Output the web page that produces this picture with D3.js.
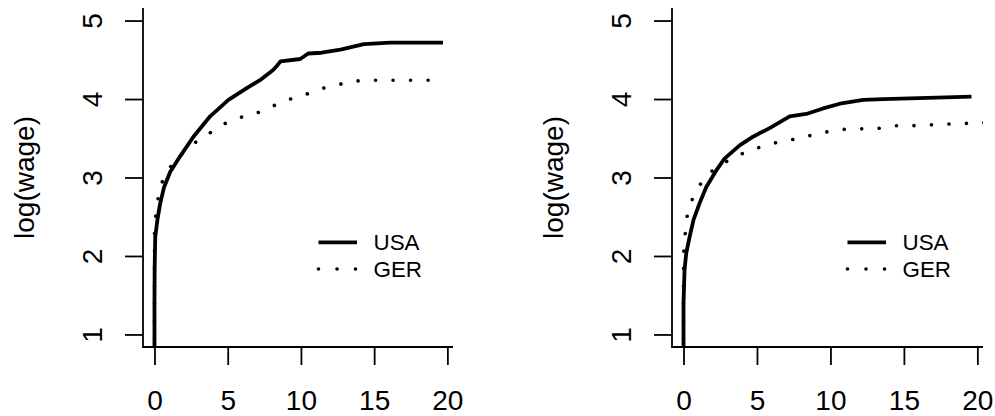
<!DOCTYPE html>
<html>
<head>
<meta charset="utf-8">
<script src="https://cdn.jsdelivr.net/npm/d3@7"></script>
<style>
  html, body { margin: 0; padding: 0; background: #fff; }
  svg { display: block; }
  text { font-family: "Liberation Sans", Arial, Helvetica, sans-serif; fill: #000; }
</style>
</head>
<body>
<svg id="chart" width="995" height="416"></svg>
<script>
// ---------- data ----------
const xTicks = [0, 5, 10, 15, 20];
const yTicks = [1, 2, 3, 4, 5];
const yLabel = "log(wage)";
const seriesNames = ["USA", "GER"];

const usaLeft = [[0.0,0.3],[0.0,1.4],[0.01,1.82],[0.05,2.24],[0.2,2.46],[0.39,2.67],[0.66,2.88],[1.07,3.07],
  [1.75,3.27],[2.66,3.52],[3.8,3.78],[5.05,3.99],[6.3,4.14],[7.2,4.24],[8.1,4.37],[8.35,4.42],[8.6,4.48],
  [9.95,4.51],[10.5,4.58],[11.4,4.59],[12.7,4.63],[14.3,4.70],[16.1,4.72],[19.7,4.72]];
const gerLeft = [[0,0.5],[0,1.86],[0,2.08],[0.0,2.32],[0.1,2.54],[0.27,2.76],[0.57,2.97],[1.14,3.15],
  [1.9,3.31],[2.73,3.44],[3.64,3.55],[4.6,3.67],[5.73,3.76],[6.87,3.81],[7.96,3.90],[9.1,3.99],[10.2,4.05],
  [11.34,4.13],[12.48,4.18],[13.68,4.23],[14.93,4.24],[19.3,4.24]];
const usaRight = [[0,0.3],[0,1.4],[0.07,1.82],[0.18,2.03],[0.41,2.24],[0.68,2.46],[1.09,2.67],[1.55,2.88],
  [2.23,3.09],[2.79,3.24],[3.82,3.41],[4.73,3.52],[5.86,3.63],[7.23,3.78],[8.36,3.81],[9.5,3.88],
  [10.64,3.94],[12.23,3.99],[13.6,4.0],[19.6,4.03]];
const gerRight = [[0,0.5],[0,1.84],[0.02,2.06],[0.12,2.29],[0.25,2.51],[0.57,2.71],[1.09,2.90],[1.77,3.06],
  [2.7,3.18],[3.68,3.28],[4.77,3.36],[5.93,3.43],[7.09,3.47],[8.3,3.52],[9.43,3.57],[10.6,3.61],
  [11.86,3.62],[13.06,3.62],[14.3,3.66],[15.5,3.66],[16.7,3.67],[17.95,3.68],[20.6,3.70]];

// ---------- layout ----------
const svg = d3.select("#chart");
const panels = [
  { left: 143, right: 453, usa: usaLeft, ger: gerLeft },
  { left: 672, right: 983, usa: usaRight, ger: gerRight }
];
const plotTop = 8, plotBottom = 347;
const xDomain = [-0.784, 20.384];
const yDomain = [0.84, 5.16];

panels.forEach((p, i) => {
  const x = d3.scaleLinear().domain(xDomain).range([p.left, p.right]);
  const y = d3.scaleLinear().domain(yDomain).range([plotBottom, plotTop]);
  const g = svg.append("g");

  const clipId = "clip" + i;
  svg.append("clipPath").attr("id", clipId)
    .append("rect").attr("x", p.left).attr("y", plotTop)
    .attr("width", p.right - p.left).attr("height", plotBottom - plotTop);

  const line = d3.line().x(d => x(d[0])).y(d => y(d[1])).curve(d3.curveLinear);

  // GER dotted
  g.append("path").datum(p.ger)
    .attr("clip-path", `url(#${clipId})`)
    .attr("d", line)
    .attr("fill", "none").attr("stroke", "#000")
    .attr("stroke-width", 3.6)
    .attr("stroke-linecap", "round")
    .attr("stroke-dasharray", "0.01,17.5");

  // USA solid
  g.append("path").datum(p.usa)
    .attr("clip-path", `url(#${clipId})`)
    .attr("d", line)
    .attr("fill", "none").attr("stroke", "#000")
    .attr("stroke-width", 3.8)
    .attr("stroke-linejoin", "round");

  // L box
  g.append("path")
    .attr("d", `M${p.left},${plotTop}V${plotBottom}H${p.right}`)
    .attr("fill", "none").attr("stroke", "#000").attr("stroke-width", 1.8);

  // y axis
  const ya = g.append("g").attr("transform", `translate(${p.left},0)`)
    .call(d3.axisLeft(y).tickValues(yTicks).tickSize(18).tickSizeOuter(0).tickFormat(d3.format("d")));
  ya.select(".domain").remove();
  ya.selectAll(".tick line").attr("stroke", "#000").attr("stroke-width", 1.8);
  ya.selectAll(".tick text")
    .attr("x", null).attr("dy", null)
    .attr("transform", "translate(-41,0) rotate(-90)")
    .attr("text-anchor", "middle")
    .attr("font-size", 28)
    .attr("font-family", null);

  // x axis
  const xa = g.append("g").attr("transform", `translate(0,${plotBottom})`)
    .call(d3.axisBottom(x).tickValues(xTicks).tickSize(18).tickSizeOuter(0).tickFormat(d3.format("d")));
  xa.select(".domain").remove();
  xa.selectAll(".tick line").attr("stroke", "#000").attr("stroke-width", 1.8);
  xa.selectAll(".tick text")
    .attr("y", 63).attr("dy", null)
    .attr("text-anchor", "middle")
    .attr("font-size", 28)
    .attr("font-family", null);

  // y label
  g.append("text")
    .attr("transform", `translate(${p.left - 109},${(plotTop + plotBottom) / 2}) rotate(-90)`)
    .attr("text-anchor", "middle")
    .attr("font-size", 28)
    .text(yLabel);

  // legend
  const lx = p.left + 175.5, ly = 242.3, rowH = 26.7;
  const leg = g.append("g");
  leg.append("line")
    .attr("x1", lx).attr("x2", lx + 38.5).attr("y1", ly).attr("y2", ly)
    .attr("stroke", "#000").attr("stroke-width", 3.8);
  leg.append("line")
    .attr("x1", lx).attr("x2", lx + 38).attr("y1", ly + rowH).attr("y2", ly + rowH)
    .attr("stroke", "#000").attr("stroke-width", 3.6)
    .attr("stroke-linecap", "round").attr("stroke-dasharray", "0.01,18.5");
  seriesNames.forEach((n, k) => {
    leg.append("text")
      .attr("x", lx + 55).attr("y", ly + k * rowH + 7.5)
      .attr("font-size", 22.4)
      .text(n);
  });
});
</script>
</body>
</html>
